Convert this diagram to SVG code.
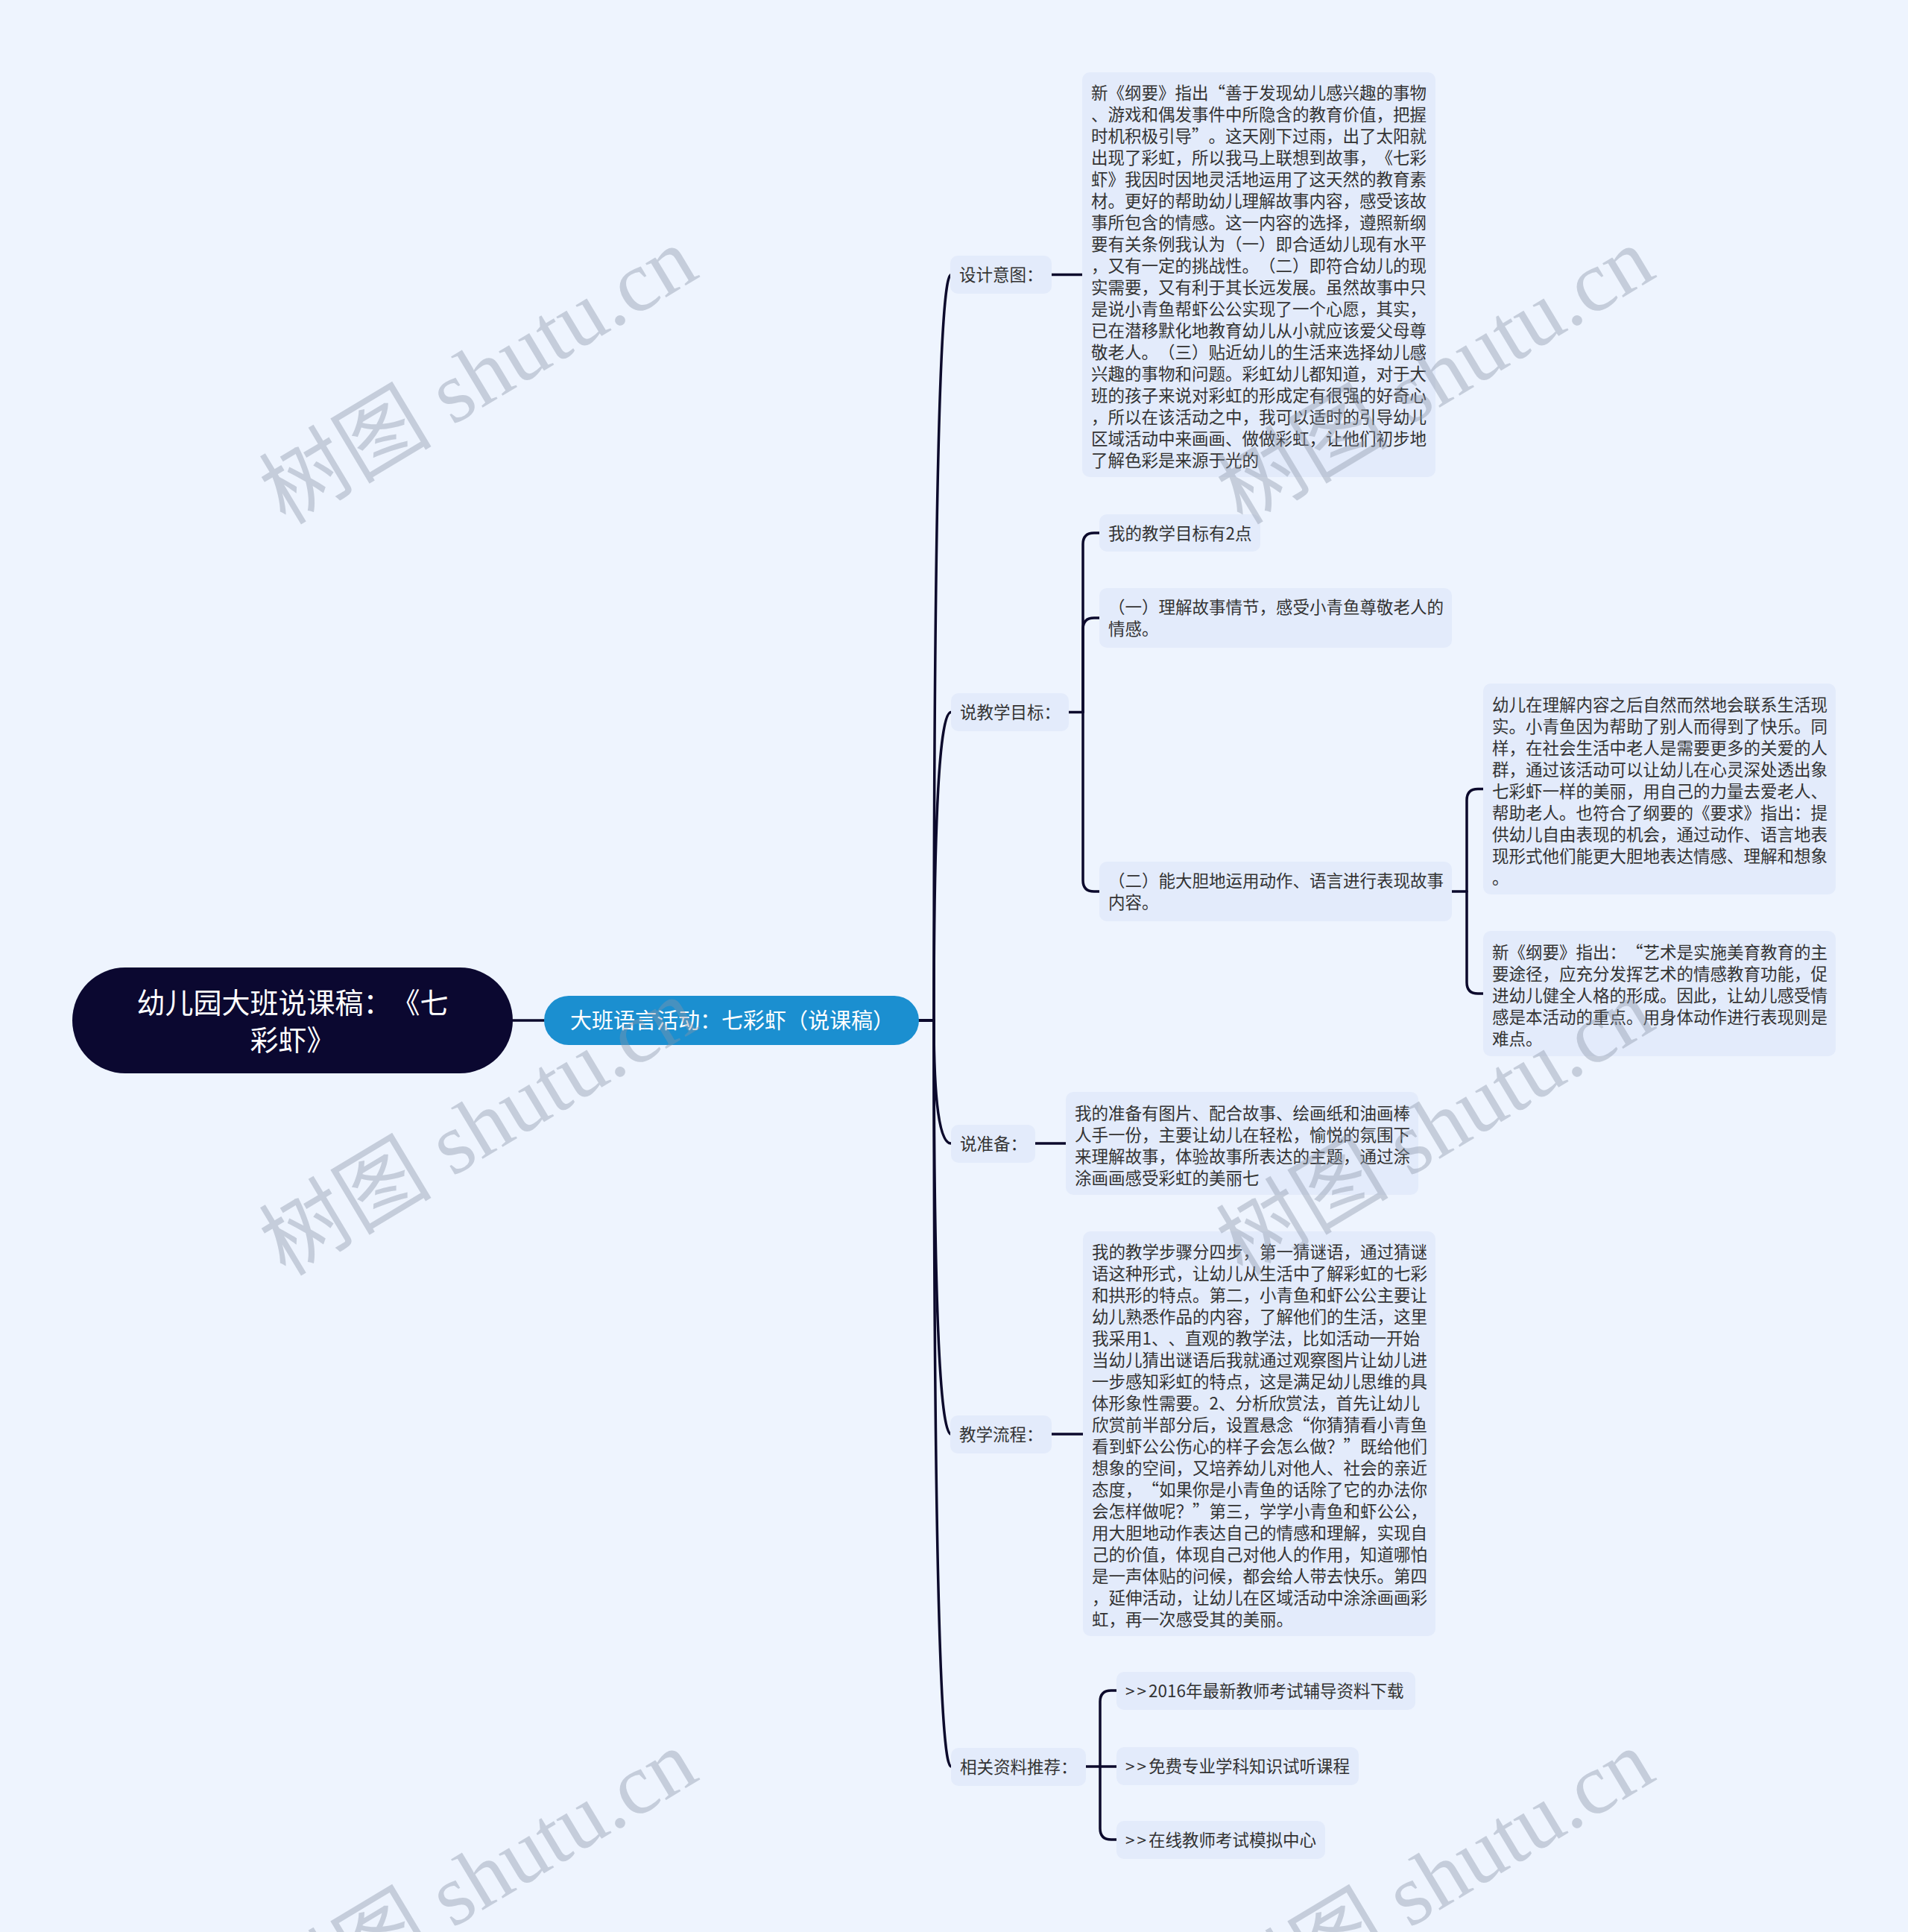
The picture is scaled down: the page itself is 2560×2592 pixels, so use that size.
<svg xmlns="http://www.w3.org/2000/svg" width="2560" height="2592" viewBox="0 0 2560 2592">
<style>
text{text-spacing-trim:space-all}
.bg{fill:#eef4fe}
.box{fill:#e3ebfb}
.t{font-family:"Noto Sans CJK SC","Liberation Sans",sans-serif;font-size:22.5px;fill:#333333}
.lnk{fill:none;stroke:#0c0a2c;stroke-width:3.5;stroke-linecap:round;stroke-linejoin:round}
.wm{font-family:"Liberation Serif","Noto Sans CJK SC",serif;font-size:116px;fill:#8a95a8;opacity:0.4}
</style>
<rect class="bg" x="0" y="0" width="2560" height="2592"/>

<g id="connectors">
<path class="lnk" d="M688 1369 L730 1369"/>
<path class="lnk" d="M1233 1369 L1253 1369 Q1253 368.5 1276 368.5"/>
<path class="lnk" d="M1233 1369 L1253 1369 Q1253 955.5 1276 955.5"/>
<path class="lnk" d="M1233 1369 L1253 1369 Q1253 1534 1276 1534"/>
<path class="lnk" d="M1233 1369 L1253 1369 Q1253 1924 1276 1924"/>
<path class="lnk" d="M1233 1369 L1253 1369 Q1253 2370 1276 2370"/>
<path class="lnk" d="M1410 368.5 L1452 368.5"/>
<path class="lnk" d="M1432 955.5 L1453 955.5 L1453 730 Q1453 715 1468 715 L1475 715"/>
<path class="lnk" d="M1453 955.5 L1453 844 Q1453 829 1468 829 L1475 829"/>
<path class="lnk" d="M1453 955.5 L1453 1181 Q1453 1196 1468 1196 L1475 1196"/>
<path class="lnk" d="M1947 1196 L1968 1196 L1968 1073.5 Q1968 1058.5 1983 1058.5 L1990 1058.5"/>
<path class="lnk" d="M1968 1196 L1968 1318 Q1968 1333 1983 1333 L1990 1333"/>
<path class="lnk" d="M1387 1534 L1430 1534"/>
<path class="lnk" d="M1410 1924 L1453 1924"/>
<path class="lnk" d="M1455 2370 L1498 2370"/>
<path class="lnk" d="M1476 2370 L1476 2283 Q1476 2268 1491 2268 L1498 2268"/>
<path class="lnk" d="M1476 2370 L1476 2453 Q1476 2468 1491 2468 L1498 2468"/>
</g>

<g id="root">
<rect x="97" y="1298" width="591" height="142" rx="71" fill="#0b0830"/>
<text x="392.5" text-anchor="middle" font-family="'Noto Sans CJK SC',sans-serif" font-size="38" fill="#ffffff"><tspan x="392.5" y="1359">幼儿园大班说课稿：《七</tspan><tspan x="392.5" y="1409">彩虾》</tspan></text>
</g>

<g id="l1">
<rect x="730" y="1336" width="503" height="66" rx="33" fill="#1b8fd0"/>
<text x="765" y="1380" font-family="'Noto Sans CJK SC',sans-serif" font-size="29" fill="#ffffff">大班语言活动：七彩虾（说课稿）</text>
</g>

<g id="n-sheji">
<rect class="box" x="1275" y="343" width="136" height="51" rx="10"/>
<text class="t" x="1287" y="377">设计意图：</text>
</g>
<g id="n-mubiao">
<rect class="box" x="1276" y="930" width="158" height="51" rx="10"/>
<text class="t" x="1288" y="964">说教学目标：</text>
</g>
<g id="n-zhunbei">
<rect class="box" x="1276" y="1509" width="113" height="51" rx="10"/>
<text class="t" x="1288" y="1542.5">说准备：</text>
</g>
<g id="n-liucheng">
<rect class="box" x="1275" y="1899" width="136" height="51" rx="10"/>
<text class="t" x="1287" y="1932.5">教学流程：</text>
</g>
<g id="n-ziliao">
<rect class="box" x="1276" y="2345" width="181" height="51" rx="10"/>
<text class="t" x="1288" y="2378.5">相关资料推荐：</text>
</g>

<g id="n-sheji-text">
<rect class="box" x="1452" y="97" width="474" height="543" rx="10"/>
<text class="t">
<tspan x="1464" y="133">新《纲要》指出“善于发现幼儿感兴趣的事物</tspan>
<tspan x="1464" dy="29">、游戏和偶发事件中所隐含的教育价值，把握</tspan>
<tspan x="1464" dy="29">时机积极引导”。这天刚下过雨，出了太阳就</tspan>
<tspan x="1464" dy="29">出现了彩虹，所以我马上联想到故事，《七彩</tspan>
<tspan x="1464" dy="29">虾》我因时因地灵活地运用了这天然的教育素</tspan>
<tspan x="1464" dy="29">材。更好的帮助幼儿理解故事内容，感受该故</tspan>
<tspan x="1464" dy="29">事所包含的情感。这一内容的选择，遵照新纲</tspan>
<tspan x="1464" dy="29">要有关条例我认为（一）即合适幼儿现有水平</tspan>
<tspan x="1464" dy="29">，又有一定的挑战性。（二）即符合幼儿的现</tspan>
<tspan x="1464" dy="29">实需要，又有利于其长远发展。虽然故事中只</tspan>
<tspan x="1464" dy="29">是说小青鱼帮虾公公实现了一个心愿，其实，</tspan>
<tspan x="1464" dy="29">已在潜移默化地教育幼儿从小就应该爱父母尊</tspan>
<tspan x="1464" dy="29">敬老人。（三）贴近幼儿的生活来选择幼儿感</tspan>
<tspan x="1464" dy="29">兴趣的事物和问题。彩虹幼儿都知道，对于大</tspan>
<tspan x="1464" dy="29">班的孩子来说对彩虹的形成定有很强的好奇心</tspan>
<tspan x="1464" dy="29">，所以在该活动之中，我可以适时的引导幼儿</tspan>
<tspan x="1464" dy="29">区域活动中来画画、做做彩虹，让他们初步地</tspan>
<tspan x="1464" dy="29">了解色彩是来源于光的</tspan>
</text>
</g>

<g id="n-mubiao-1">
<rect class="box" x="1475" y="690" width="216" height="50" rx="10"/>
<text class="t" x="1487" y="723.5">我的教学目标有2点</text>
</g>
<g id="n-mubiao-2">
<rect class="box" x="1475" y="789" width="473" height="80" rx="10"/>
<text class="t"><tspan x="1487" y="823">（一）理解故事情节，感受小青鱼尊敬老人的</tspan><tspan x="1487" dy="29">情感。</tspan></text>
</g>
<g id="n-mubiao-3">
<rect class="box" x="1475" y="1156" width="473" height="80" rx="10"/>
<text class="t"><tspan x="1487" y="1190">（二）能大胆地运用动作、语言进行表现故事</tspan><tspan x="1487" dy="29">内容。</tspan></text>
</g>

<g id="n-mubiao-3a">
<rect class="box" x="1990" y="917" width="473" height="283" rx="10"/>
<text class="t">
<tspan x="2002" y="953.5">幼儿在理解内容之后自然而然地会联系生活现</tspan>
<tspan x="2002" dy="29">实。小青鱼因为帮助了别人而得到了快乐。同</tspan>
<tspan x="2002" dy="29">样，在社会生活中老人是需要更多的关爱的人</tspan>
<tspan x="2002" dy="29">群，通过该活动可以让幼儿在心灵深处透出象</tspan>
<tspan x="2002" dy="29">七彩虾一样的美丽，用自己的力量去爱老人、</tspan>
<tspan x="2002" dy="29">帮助老人。也符合了纲要的《要求》指出：提</tspan>
<tspan x="2002" dy="29">供幼儿自由表现的机会，通过动作、语言地表</tspan>
<tspan x="2002" dy="29">现形式他们能更大胆地表达情感、理解和想象</tspan>
<tspan x="2002" dy="29">。</tspan>
</text>
</g>
<g id="n-mubiao-3b">
<rect class="box" x="1990" y="1249" width="473" height="168" rx="10"/>
<text class="t">
<tspan x="2002" y="1286">新《纲要》指出：“艺术是实施美育教育的主</tspan>
<tspan x="2002" dy="29">要途径，应充分发挥艺术的情感教育功能，促</tspan>
<tspan x="2002" dy="29">进幼儿健全人格的形成。因此，让幼儿感受情</tspan>
<tspan x="2002" dy="29">感是本活动的重点。用身体动作进行表现则是</tspan>
<tspan x="2002" dy="29">难点。</tspan>
</text>
</g>

<g id="n-zhunbei-text">
<rect class="box" x="1430" y="1465" width="473" height="138" rx="10"/>
<text class="t">
<tspan x="1442" y="1501.5">我的准备有图片、配合故事、绘画纸和油画棒</tspan>
<tspan x="1442" dy="29">人手一份，主要让幼儿在轻松，愉悦的氛围下</tspan>
<tspan x="1442" dy="29">来理解故事，体验故事所表达的主题，通过涂</tspan>
<tspan x="1442" dy="29">涂画画感受彩虹的美丽七</tspan>
</text>
</g>

<g id="n-liucheng-text">
<rect class="box" x="1453" y="1652" width="473" height="543" rx="10"/>
<text class="t">
<tspan x="1465" y="1688">我的教学步骤分四步，第一猜谜语，通过猜谜</tspan>
<tspan x="1465" dy="29">语这种形式，让幼儿从生活中了解彩虹的七彩</tspan>
<tspan x="1465" dy="29">和拱形的特点。第二，小青鱼和虾公公主要让</tspan>
<tspan x="1465" dy="29">幼儿熟悉作品的内容，了解他们的生活，这里</tspan>
<tspan x="1465" dy="29">我采用1、、直观的教学法，比如活动一开始</tspan>
<tspan x="1465" dy="29">当幼儿猜出谜语后我就通过观察图片让幼儿进</tspan>
<tspan x="1465" dy="29">一步感知彩虹的特点，这是满足幼儿思维的具</tspan>
<tspan x="1465" dy="29">体形象性需要。2、分析欣赏法，首先让幼儿</tspan>
<tspan x="1465" dy="29">欣赏前半部分后，设置悬念“你猜猜看小青鱼</tspan>
<tspan x="1465" dy="29">看到虾公公伤心的样子会怎么做？”既给他们</tspan>
<tspan x="1465" dy="29">想象的空间，又培养幼儿对他人、社会的亲近</tspan>
<tspan x="1465" dy="29">态度，“如果你是小青鱼的话除了它的办法你</tspan>
<tspan x="1465" dy="29">会怎样做呢？”第三，学学小青鱼和虾公公，</tspan>
<tspan x="1465" dy="29">用大胆地动作表达自己的情感和理解，实现自</tspan>
<tspan x="1465" dy="29">己的价值，体现自己对他人的作用，知道哪怕</tspan>
<tspan x="1465" dy="29">是一声体贴的问候，都会给人带去快乐。第四</tspan>
<tspan x="1465" dy="29">，延伸活动，让幼儿在区域活动中涂涂画画彩</tspan>
<tspan x="1465" dy="29">虹，再一次感受其的美丽。</tspan>
</text>
</g>

<g id="n-ziliao-1">
<rect class="box" x="1498" y="2243" width="401" height="51" rx="10"/>
<text class="t" x="1510" y="2276.5"><tspan letter-spacing="3">&gt;&gt;</tspan>2016年最新教师考试辅导资料下载</text>
</g>
<g id="n-ziliao-2">
<rect class="box" x="1498" y="2344" width="325" height="51" rx="10"/>
<text class="t" x="1510" y="2377.5"><tspan letter-spacing="3">&gt;&gt;</tspan>免费专业学科知识试听课程</text>
</g>
<g id="n-ziliao-3">
<rect class="box" x="1498" y="2443" width="280" height="51" rx="10"/>
<text class="t" x="1510" y="2476.5"><tspan letter-spacing="3">&gt;&gt;</tspan>在线教师考试模拟中心</text>
</g>

<g id="watermarks">
<text class="wm" text-anchor="middle" transform="translate(662 538) rotate(-31)">树图 shutu.cn</text>
<text class="wm" text-anchor="middle" transform="translate(1946 538) rotate(-31)">树图 shutu.cn</text>
<text class="wm" text-anchor="middle" transform="translate(662 1546) rotate(-31)">树图 shutu.cn</text>
<text class="wm" text-anchor="middle" transform="translate(1946 1546) rotate(-31)">树图 shutu.cn</text>
<text class="wm" text-anchor="middle" transform="translate(662 2554) rotate(-31)">树图 shutu.cn</text>
<text class="wm" text-anchor="middle" transform="translate(1946 2554) rotate(-31)">树图 shutu.cn</text>
</g>
</svg>
